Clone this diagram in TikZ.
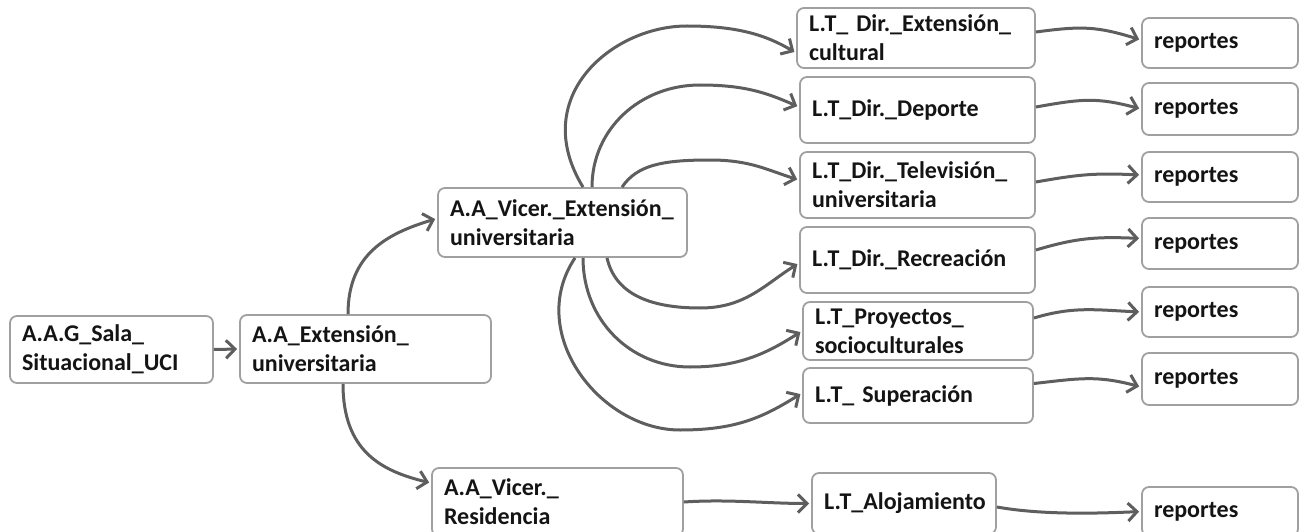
\documentclass[tikz,border=0pt]{standalone}
\usepackage{fontspec}
\setmainfont{Carlito}
\usetikzlibrary{arrows.meta}
\definecolor{boxline}{HTML}{A0A0A0}
\definecolor{linkgray}{HTML}{5E5E5E}
\definecolor{ink}{HTML}{141414}
\tikzset{
  box/.style n args={3}{draw=boxline, line width=1.8pt, rounded corners=7pt,
    fill=white, inner xsep=12pt, inner ysep=0pt,
    minimum width=#1pt, minimum height=#2pt, text width=#3pt, align=left,
    font=\fontsize{24}{29}\selectfont\bfseries, text=ink,
    execute at begin node={\hyphenpenalty=10000\exhyphenpenalty=10000}},
  link/.style={draw=linkgray, line width=3pt,
    -{Straight Barb[length=9pt,width=18pt]}, shorten >=2pt},
}
\begin{document}
\begin{tikzpicture}[x=1pt,y=-1pt]
\useasboundingbox (0,0) rectangle (1314,532);

% left column
\node[box={203}{67}{179}] (aag)  at (111.5,349.5) {A.A.G\_Sala\_\\Situacional\_UCI};
\node[box={251}{68}{227}] (aext) at (365.5,349)   {A.A\_Extensión\_\\universitaria};
\node[box={249}{69}{225}] (vext) at (562.5,222.5) {A.A\_Vicer.\_Extensión\_\\universitaria};
\node[box={251}{68}{227}] (vres) at (557.5,502)   {A.A\_Vicer.\_\\Residencia};

% line units
\node[box={238}{60}{214}] (cult) at (916,38)    {L.T\_ Dir.\_Extensión\_\\cultural};
\node[box={235}{66}{211}] (dep)  at (917.5,110) {L.T\_Dir.\_Deporte};
\node[box={235}{66}{211}] (tel)  at (917.5,185) {L.T\_Dir.\_Televisión\_\\universitaria};
\node[box={235}{66}{211}] (rec)  at (917.5,260) {L.T\_Dir.\_Recreación};
\node[box={230}{58}{206}] (pro)  at (918,331)   {L.T\_Proyectos\_\\socioculturales};
\node[box={230}{55}{206}] (sup)  at (918,395.5) {L.T\_ Superación};
\node[box={184}{61}{160}] (alo)  at (904,503.5) {L.T\_Alojamiento};

% reports
\node[box={156}{50}{132}] (r1) at (1220,43)    {reportes};
\node[box={156}{52}{132}] (r2) at (1220,109)   {reportes};
\node[box={156}{50}{132}] (r3) at (1220,177)   {reportes};
\node[box={156}{51}{132}] (r4) at (1220,243.5) {reportes};
\node[box={156}{50}{132}] (r5) at (1220,312)   {reportes};
\node[box={156}{52}{132}] (r6) at (1220,379)   {reportes};
\node[box={156}{49}{132}] (r7) at (1220,511.5) {reportes};

% connectors
\draw[link] (aag.east) -- (aext.west);
\draw[link] ([xshift=-17.5pt]aext.north) .. controls +(0,-60) and +(-50,15) .. ([yshift=4pt]vext.west);
\draw[link] ([xshift=-22.5pt]aext.south) .. controls +(0,67) and +(-50,-12) .. ([yshift=19pt]vres.west);

% arcs over the top
\draw[link] ([xshift=20.5pt]vext.north) .. controls +(-55,-90) and +(-75,0) .. (687,26)
            .. controls +(50,0) and +(-30,-18) .. ([yshift=-15pt]cult.west);
\draw[link] ([xshift=29.5pt]vext.north) .. controls +(0,-58) and +(-60,0) .. (700,85)
            .. controls +(45,0) and +(-32,-14) .. ([yshift=3pt]dep.west);
\draw[link] ([xshift=59.5pt]vext.north) .. controls +(15,-22) and +(-48,0) .. (710,160)
            .. controls +(40,0) and +(-32,-10) .. ([yshift=5pt]tel.west);
% arcs underneath
\draw[link] ([xshift=44.5pt]vext.south) .. controls +(8,35) and +(-52,0) .. (700,308)
            .. controls +(45,0) and +(-35,22) .. ([yshift=-3pt]rec.west);
\draw[link] ([xshift=20.5pt]vext.south) .. controls +(0,62) and +(-60,0) .. (690,367)
            .. controls +(50,0) and +(-35,22) .. (pro.west);
\draw[link] ([xshift=12.5pt]vext.south) .. controls +(-50,75) and +(-80,0) .. (680,430)
            .. controls +(55,0) and +(-40,25) .. ([yshift=2.5pt]sup.west);

\draw[link] (vres.east) .. controls +(45,-3) and +(-45,0) .. (alo.west);

\draw[link] ([yshift=6pt]cult.east) .. controls +(45,-6) and +(-45,-14) .. ([yshift=3pt]r1.west);
\draw[link] ([yshift=3pt]dep.east) .. controls +(45,-8) and +(-45,-12) .. (r2.west);
\draw[link] ([yshift=3pt]tel.east) .. controls +(45,-8) and +(-45,-2) .. ([yshift=2pt]r3.west);
\draw[link] ([yshift=10pt]rec.east) .. controls +(40,-12) and +(-45,-2) .. ([yshift=5pt]r4.west);
\draw[link] ([yshift=13pt]pro.east) .. controls +(40,-12) and +(-45,-2) .. (r5.west);
\draw[link] ([yshift=12pt]sup.east) .. controls +(45,-5) and +(-45,-12) .. ([yshift=-8pt]r6.west);
\draw[link] ([yshift=-3.5pt]alo.east) .. controls +(45,8) and +(-45,2) .. (r7.west);
\end{tikzpicture}
\end{document}
